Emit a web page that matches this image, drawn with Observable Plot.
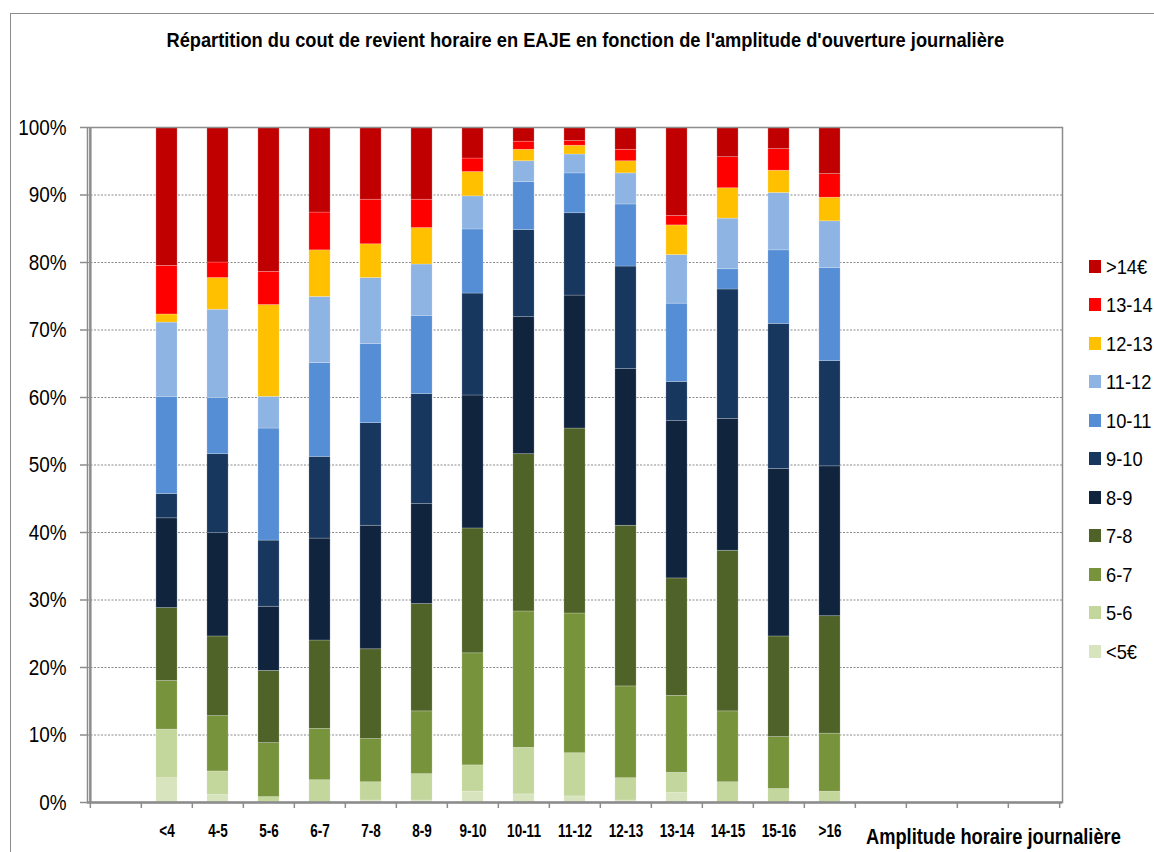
<!DOCTYPE html>
<html><head><meta charset="utf-8">
<script src="https://cdn.jsdelivr.net/npm/d3@7"></script>
<script src="https://cdn.jsdelivr.net/npm/@observablehq/plot@0.6"></script>
<style>
html,body{margin:0;padding:0;background:#fff;overflow:hidden;}
#wrap{position:relative;width:1154px;height:852px;overflow:hidden;font-family:"Liberation Sans Narrow","Arial Narrow","Liberation Sans",Arial,sans-serif;color:#000;}
#border{position:absolute;left:10px;top:13px;width:1300px;height:1000px;border:1.5px solid #8c8c8c;box-sizing:border-box;}
#chart{position:absolute;left:0;top:0;}
#title{position:absolute;left:0;width:1170px;top:29px;text-align:center;font-weight:bold;font-size:20px;white-space:nowrap;}
#title span{display:inline-block;transform-origin:50% 50%;}
#xlabel{position:absolute;left:866px;top:825px;font-weight:bold;font-size:21.5px;white-space:nowrap;}
#xlabel span{display:inline-block;transform-origin:0 50%;}
#legend{position:absolute;left:1089px;top:246.75px;}
.row{display:flex;align-items:center;height:38.5px;white-space:nowrap;}
.sw{width:12px;height:13px;margin-right:5px;flex:none;}
.lab{font-size:21px;line-height:1;display:inline-block;transform:scaleX(0.87);transform-origin:0 50%;white-space:nowrap;}
</style>
</head><body>
<div id="wrap">
  <div id="border"></div>
  <div id="chart"></div>
  <div id="title"><span>Répartition du cout de revient horaire en EAJE en fonction de l'amplitude d'ouverture journalière</span></div>
  <div id="xlabel"><span>Amplitude horaire journalière</span></div>
  <div id="legend"></div>
</div>
<script>
// Categories (amplitude d'ouverture journalière, heures)
const categories = ["<4","4-5","5-6","6-7","7-8","8-9","9-10","10-11","11-12","12-13","13-14","14-15","15-16",">16"];
// Empty slots of the category axis (Excel axis has room for more categories)
const emptyBefore = [""];
const emptyAfter = [" ","  ","   ","    "];
// Series (coût de revient horaire), bottom to top
const series = ["<5€","5-6","6-7","7-8","8-9","9-10","10-11","11-12","12-13","13-14",">14€"];
const colors = ["#D7E4BD","#C3D69B","#77933C","#4F6228","#10243E","#17375E","#558ED5","#8EB4E3","#FFC000","#FF0000","#C00000"];
// Values in % per category
const sLt5   = [3.6,1.1,0,0,0.3,0.3,1.6,1.2,0.9,0.3,1.4,0,0,0];
const s5_6   = [7.2,3.5,0.8,3.3,2.7,3.9,3.9,6.9,6.4,3.3,3.0,3.0,2.0,1.6];
const s6_7   = [7.2,8.2,8.0,7.6,6.4,9.3,16.6,20.2,20.7,13.6,11.4,10.5,7.7,8.6];
const s7_8   = [10.8,11.8,10.7,13.1,13.3,15.9,18.5,23.3,27.4,23.8,17.4,23.8,14.9,17.4];
const s8_9   = [13.3,15.3,9.5,15.1,18.3,14.8,19.7,20.3,19.7,23.2,23.3,19.5,24.8,22.2];
const s9_10  = [3.6,11.7,9.8,12.1,15.2,16.3,15.1,12.9,12.2,15.2,5.8,19.2,21.5,15.6];
const s10_11 = [14.4,8.3,16.6,13.9,11.7,11.6,9.5,7.1,5.9,9.2,11.6,3.0,10.9,13.8];
const s11_12 = [11.0,13.1,4.7,9.8,9.8,7.6,4.9,3.1,2.8,4.6,7.2,7.5,8.5,6.9];
const s12_13 = [1.2,4.7,13.6,6.9,5.0,5.4,3.6,1.7,1.3,1.8,4.4,4.5,3.3,3.5];
const s13_14 = [7.2,2.3,4.9,5.6,6.6,4.2,2.0,1.2,0.7,1.7,1.4,4.6,3.2,3.5];
const sGt14  = [20.5,20.0,21.4,12.6,10.7,10.7,4.6,2.1,2.0,3.3,13.1,4.4,3.2,6.9];
const yTicks = [0,10,20,30,40,50,60,70,80,90,100];

const seriesValues = [sLt5,s5_6,s6_7,s7_8,s8_9,s9_10,s10_11,s11_12,s12_13,s13_14,sGt14];
const data = [];
series.forEach((s, i) => categories.forEach((c, j) => data.push({cat: c, serie: s, value: seriesValues[i][j]})));

const domainX = [...emptyBefore, ...categories, ...emptyAfter];
const FONT = '"Liberation Sans Narrow","Arial Narrow","Liberation Sans",Arial,sans-serif';
const mL = 87, mR = 92, W = 1154;
const step = (W - mL - mR) / domainX.length;

const chart = Plot.plot({
  width: W, height: 852,
  marginLeft: mL, marginRight: mR, marginTop: 127, marginBottom: 50,
  style: {fontFamily: FONT, background: "transparent", overflow: "visible"},
  x: {type: "band", domain: domainX, padding: 0},
  y: {domain: [0, 100]},
  color: {domain: series, range: colors},
  marks: [
    Plot.gridY(yTicks, {stroke: "#8a8a8a", strokeOpacity: 1, strokeWidth: 1, strokeDasharray: "2,1.5"}),
    Plot.barY(data, {x: "cat", y: "value", fill: "serie", order: series,
      insetLeft: (step - 21.5) / 2, insetRight: (step - 21.5) / 2,
      stroke: "#ffffff", strokeOpacity: 0.3, strokeWidth: 0.7}),
    Plot.frame({stroke: "#8c8c8c", strokeWidth: 1.5}),
    Plot.ruleX([domainX[0]], {stroke: "#8c8c8c", strokeWidth: 2.5, dx: -step / 2}),
    Plot.ruleY([0], {stroke: "#8c8c8c", strokeWidth: 2.5}),
    Plot.axisY(yTicks, {tickSize: 7, tickPadding: 14, tickFormat: d => d + "%", fontSize: 22.5, stroke: "#8c8c8c", strokeWidth: 1.5, label: null}),
    Plot.axisX(domainX, {tickSize: 6, text: null, dx: -step / 2, stroke: "#8c8c8c", strokeWidth: 1.5, label: null}),
    Plot.axisX([domainX[domainX.length - 1]], {tickSize: 6, text: null, dx: step / 2, stroke: "#8c8c8c", strokeWidth: 1.5, label: null}),
    Plot.axisX(categories, {tickSize: 0, tickPadding: 21, fontSize: 19, fontWeight: "bold", label: null})
  ]
});
document.getElementById("chart").appendChild(chart);

// Condense axis texts to mimic the narrow font of the original
function condense(selector, k) {
  chart.querySelectorAll(selector).forEach(t => {
    const len = t.getComputedTextLength();
    if (len > 0) {
      t.setAttribute("textLength", len * k);
      t.setAttribute("lengthAdjust", "spacingAndGlyphs");
    }
  });
}
condense('g[aria-label="y-axis tick label"] text', 0.84);
condense('g[aria-label="x-axis tick label"] text', 0.71);

const legend = document.getElementById("legend");
for (let i = series.length - 1; i >= 0; i--) {
  const row = document.createElement("div");
  row.className = "row";
  const sw = document.createElement("div");
  sw.className = "sw";
  sw.style.background = colors[i];
  const lab = document.createElement("div");
  lab.className = "lab";
  lab.textContent = series[i];
  row.appendChild(sw); row.appendChild(lab);
  legend.appendChild(row);
}

function fitWidth(el, target) {
  const w = el.offsetWidth;
  if (w > 0) el.style.transform = "scaleX(" + (target / w) + ")";
}
fitWidth(document.querySelector("#title span"), 838);
fitWidth(document.querySelector("#xlabel span"), 255);
</script>
</body></html>
